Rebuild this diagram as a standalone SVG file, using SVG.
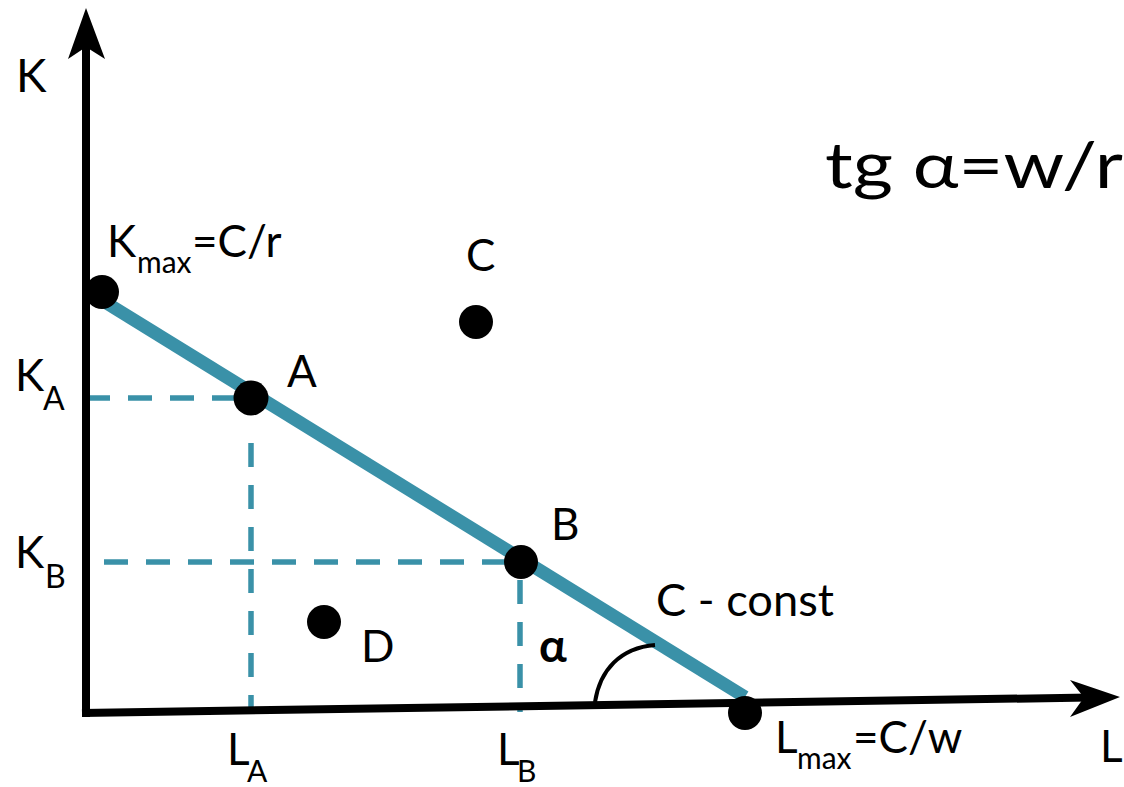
<svg xmlns="http://www.w3.org/2000/svg" width="1124" height="787" viewBox="0 0 1124 787">
<style>
.t{font-family:Lato,"Open Sans","Liberation Sans",sans-serif;fill:#000}
.ax{stroke:#000;stroke-width:8;fill:none}
.dash{stroke:#3a91a8;stroke-width:5.5;stroke-dasharray:24 18;fill:none}
.dot{fill:#000}
</style>
<rect width="1124" height="787" fill="#fff"/>
<g id="connectors">
<line id="budget-line" x1="100" y1="299" x2="745" y2="697" stroke="#3a91a8" stroke-width="13"/>
<line class="dash" x1="86" y1="398" x2="236" y2="398"/>
<line class="dash" x1="251" y1="443" x2="251" y2="712"/>
<line class="dash" x1="104" y1="562" x2="505" y2="562"/>
<line class="dash" x1="520" y1="580" x2="520" y2="712"/>
<path d="M595,702 C600,670 620,648 655,645" stroke="#000" stroke-width="4" fill="none"/>
</g>
<g id="axes">
<line class="ax" x1="86" y1="717" x2="86" y2="40"/>
<polygon points="86,8 105,59 86,47 68,59" fill="#000"/>
<line class="ax" x1="82" y1="713" x2="1090" y2="697.5"/>
<polygon points="1120,697 1070,717 1084,697.5 1070,680" fill="#000"/>
</g>
<g id="Kmax"><circle class="dot" cx="102" cy="292" r="17"/></g>
<g id="A"><circle class="dot" cx="251" cy="398" r="17.5"/></g>
<g id="B"><circle class="dot" cx="521" cy="562" r="17"/></g>
<g id="Lmax"><circle class="dot" cx="745" cy="713" r="17"/></g>
<g id="C"><circle class="dot" cx="476" cy="322" r="17"/></g>
<g id="D"><circle class="dot" cx="324" cy="622" r="17"/></g>
<g id="labels">
<text class="t" x="16" y="92" font-size="46">K</text>
<text class="t" x="107" y="257" font-size="44">K<tspan x="137" y="273" font-size="30">max</tspan><tspan x="192" y="257" font-size="44">=C/r</tspan></text>
<text class="t" x="15" y="391" font-size="44">K<tspan x="43" y="410" font-size="32">A</tspan></text>
<text class="t" x="15" y="568" font-size="44">K<tspan x="45" y="588" font-size="32">B</tspan></text>
<text class="t" x="287" y="387" font-size="44">A</text>
<text class="t" x="466" y="271" font-size="44">C</text>
<text class="t" x="361" y="662" font-size="44">D</text>
<text class="t" x="551" y="540" font-size="44">B</text>
<text class="t" x="539" y="662" font-size="46" font-weight="bold">α</text>
<text class="t" x="656" y="616" font-size="44" textLength="178" lengthAdjust="spacingAndGlyphs">C - const</text>
<text class="t" x="227" y="765" font-size="44">L<tspan x="247" y="782" font-size="30">A</tspan></text>
<text class="t" x="497" y="765" font-size="44">L<tspan x="517" y="782" font-size="30">B</tspan></text>
<text class="t" x="775" y="753" font-size="44">L<tspan x="797" y="769" font-size="30">max</tspan><tspan x="853" y="753" font-size="44">=C/w</tspan></text>
<text class="t" x="1100" y="762" font-size="44">L</text>
<text class="t" x="825" y="188" font-size="64" textLength="298" lengthAdjust="spacingAndGlyphs">tg α=w/r</text>
</g>
</svg>
